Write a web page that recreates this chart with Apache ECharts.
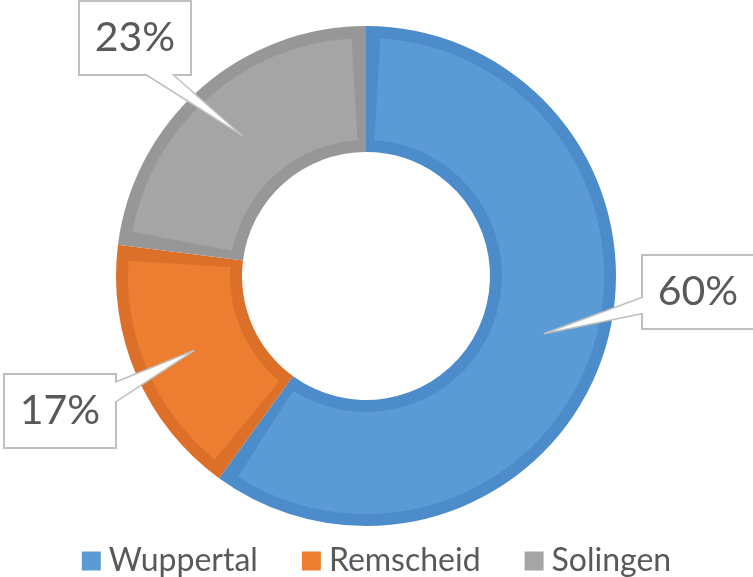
<!DOCTYPE html>
<html>
<head>
<meta charset="utf-8">
<script src="https://cdn.jsdelivr.net/npm/echarts@6/dist/echarts.min.js"></script>
<style>
  html, body { margin: 0; padding: 0; background: #fff; }
  #chart { width: 753px; height: 577px; }
</style>
</head>
<body>
<div id="chart"></div>
<script>
const categories = ["Wuppertal", "Remscheid", "Solingen"];
const shares = [60, 17, 23];
const fillColors = ["#5b9bd5", "#ed7d31", "#a5a5a5"];
const edgeColors = ["#4c8cca", "#dc7029", "#979797"];

// callout box centres, and the part of the box edge where the pointer starts
const callouts = [
  { x: 698, y: 292, side: "left", from: 0.57, to: 0.8 },
  { x: 60, y: 411, side: "right", from: 0.1, to: 0.38 },
  { x: 135, y: 38, side: "bottom", from: 0.59, to: 0.84 },
];
const boxW = 110;
const boxH = 72;
const textColor = "#595959";
const font = "Lato, 'Open Sans', sans-serif";

const chart = echarts.init(document.getElementById("chart"));

const option = {
  animation: false,
  backgroundColor: "#fff",
  legend: {
    data: categories.map((name, i) => ({ name, itemStyle: { color: fillColors[i] } })),
    left: "center",
    top: 540,
    icon: "rect",
    itemWidth: 19,
    itemHeight: 19,
    itemGap: 44,
    selectedMode: false,
    textStyle: {
      fontFamily: font,
      fontSize: 32,
      color: textColor,
      padding: [0, 0, 0, 3],
    },
  },
  series: [
    {
      name: "fill",
      type: "pie",
      z: 3,
      center: [366, 276],
      radius: [136, 238],
      padAngle: 7,
      avoidLabelOverlap: false,
      emphasis: { disabled: true },
      data: categories.map((name, i) => ({
        name,
        value: shares[i],
        itemStyle: { color: fillColors[i] },
      })),
      label: {
        show: true,
        position: "inside",
        formatter: "{c}%",
        fontFamily: font,
        fontSize: 41,
        color: textColor,
        backgroundColor: "#fff",
        borderColor: "#bfbfbf",
        borderWidth: 2,
        overflow: "none",
        width: boxW - 30,
        lineHeight: boxH - 26,
        padding: [13, 15],
        align: "center",
      },
      labelLine: { show: false },
      labelLayout: (params) => {
        const c = callouts[params.dataIndex];
        return { x: c.x, y: c.y, align: "center", verticalAlign: "middle", fontSize: 41 };
      },
    },
    {
      name: "edge",
      type: "pie",
      z: 2,
      silent: true,
      center: [366, 276],
      radius: [124, 250],
      label: { show: false },
      labelLine: { show: false },
      emphasis: { disabled: true },
      data: categories.map((name, i) => ({
        name,
        value: shares[i],
        itemStyle: { color: edgeColors[i] },
      })),
    },
  ],
};

chart.setOption(option);

// pointer wedges from the callout boxes to the middle of each ring slice
function edgePoint(c, f, inset) {
  const l = c.x - boxW / 2;
  const t = c.y - boxH / 2;
  if (c.side === "left") return [l + inset, t + f * boxH];
  if (c.side === "right") return [l + boxW - inset, t + f * boxH];
  return [l + f * boxW, t + boxH - inset];
}

const sliceData = chart.getModel().getSeriesByIndex(0).getData();
const pointers = [];
callouts.forEach((c, i) => {
  const lay = sliceData.getItemLayout(i);
  const mid = (lay.startAngle + lay.endAngle) / 2;
  const rm = (lay.r + lay.r0) / 2;
  const tip = [lay.cx + rm * Math.cos(mid), lay.cy + rm * Math.sin(mid)];
  const a = edgePoint(c, c.from, 0);
  const b = edgePoint(c, c.to, 0);
  const a2 = edgePoint(c, c.from, 3);
  const b2 = edgePoint(c, c.to, 3);
  pointers.push({
    type: "polygon",
    z: 100,
    silent: true,
    shape: { points: [a2, a, tip, b, b2] },
    style: { fill: "#fff" },
  });
  pointers.push({
    type: "polyline",
    z: 101,
    silent: true,
    shape: { points: [a, tip, b] },
    style: { stroke: "#bfbfbf", lineWidth: 1.5, fill: null },
  });
});
chart.setOption({ graphic: pointers });
</script>
</body>
</html>
